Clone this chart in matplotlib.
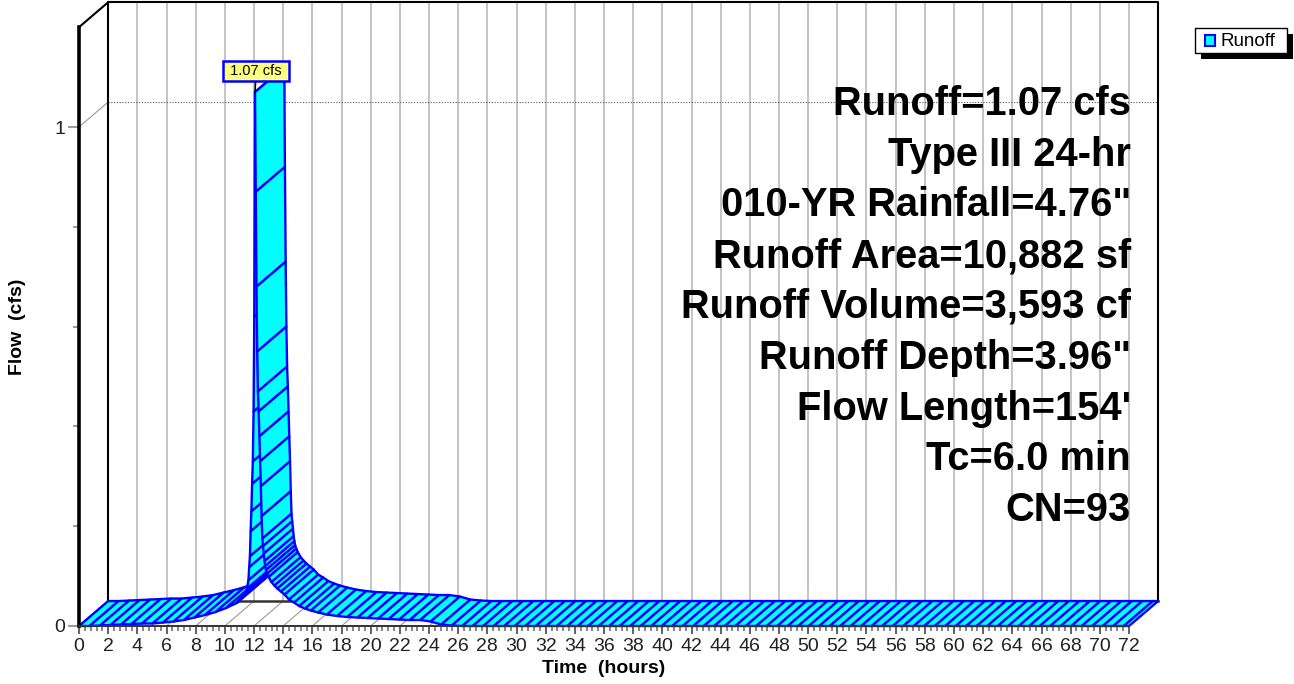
import matplotlib
matplotlib.use("Agg")
from matplotlib import pyplot
from matplotlib.patches import Polygon, Rectangle
from matplotlib.ticker import MultipleLocator, FixedLocator

pyplot.rcParams['font.family'] = ['Liberation Sans', 'DejaVu Sans']

# runoff hydrograph: time (hours) / flow (cfs)
hours_rise = [0.00, 0.72, 1.44, 2.16, 2.88, 3.60, 4.32, 5.04, 5.76, 6.48, 7.20, 7.92,
              8.64, 9.36, 10.08, 10.80, 11.20, 11.40, 11.52, 11.62, 11.67, 11.72, 11.77,
              11.82, 11.87, 11.92, 11.97, 12.02, 12.07]
flow_rise = [0.000, 0.000, 0.001, 0.002, 0.003, 0.004, 0.005, 0.005, 0.007, 0.009, 0.012, 0.017,
             0.022, 0.028, 0.036, 0.046, 0.058, 0.066, 0.075, 0.092, 0.118, 0.140, 0.190,
             0.230, 0.285, 0.330, 0.430, 0.620, 1.070]
hours_fall = [12.12, 12.17, 12.22, 12.27, 12.32, 12.37, 12.42, 12.47, 12.52, 12.57, 12.62,
              12.67, 12.72, 12.77, 12.82, 12.90, 13.00, 13.20, 13.40, 13.60, 13.85, 14.10,
              14.40, 14.75, 15.10, 15.50, 15.90, 16.40, 17.00, 17.70, 18.40, 19.10, 19.80,
              20.52, 21.24, 21.96, 22.68, 23.40, 24.12, 24.84, 25.56]
flow_fall = [0.870, 0.680, 0.550, 0.470, 0.430, 0.380, 0.330, 0.280, 0.220, 0.175, 0.160,
             0.145, 0.130, 0.120, 0.112, 0.105, 0.098, 0.088, 0.081, 0.075, 0.069, 0.063,
             0.053, 0.047, 0.040, 0.035, 0.031, 0.027, 0.023, 0.020, 0.018, 0.017, 0.016,
             0.015, 0.014, 0.013, 0.012, 0.012, 0.009, 0.003, 0.001]
hours_tail = [26.28, 27.00, 27.72, 28.44, 29.16, 29.88, 30.60, 31.32, 32.04, 32.76, 33.48,
              34.20, 34.92, 35.64, 36.36, 37.08, 37.80, 38.52, 39.24, 39.96, 40.68, 41.40,
              42.12, 42.84, 43.56, 44.28, 45.00, 45.72, 46.44, 47.16, 47.88, 48.60, 49.32,
              50.04, 50.76, 51.48, 52.20, 52.92, 53.64, 54.36, 55.08, 55.80, 56.52, 57.24,
              57.96, 58.68, 59.40, 60.12, 60.84, 61.56, 62.28, 63.00, 63.72, 64.44, 65.16,
              65.88, 66.60, 67.32, 68.04, 68.76, 69.48, 70.20, 70.92, 71.64, 72.00]
flow_tail = [0.0] * len(hours_tail)

hours = hours_rise + hours_fall + hours_tail
flow = flow_rise + flow_fall + flow_tail

summary = ['Runoff=1.07 cfs', 'Type III 24-hr', '010-YR Rainfall=4.76"',
           'Runoff Area=10,882 sf', 'Runoff Volume=3,593 cf', 'Runoff Depth=3.96"',
           "Flow Length=154'", 'Tc=6.0 min', 'CN=93']

T_MAX = 72
Q_MAX = 1.2
DX, DY = 2.0, 0.05          # depth of the 3d box, in data units
FILL = '#00ffff'
EDGE = '#0000ff'
W, H = 1294, 684


def fig_rect(x, y, w, h, **kw):
    # rectangle given in pixels from the top-left corner of the figure
    return Rectangle((x / W, 1 - (y + h) / H), w / W, h / H, transform=fig.transFigure, **kw)


fig = pyplot.figure(figsize=(W / 100, H / 100), dpi=100)
ax = fig.add_axes([79 / W, 58 / H, 1050 / W, 598.8 / H])
ax.set_xlim(0, T_MAX)
ax.set_ylim(0, Q_MAX)
ax.patch.set_visible(False)

# back wall grid
for t in range(2, T_MAX, 2):
    ax.plot([t + DX, t + DX], [DY, Q_MAX + DY], color='#c4c4c4', lw=1.4, clip_on=False, zorder=1)
ax.plot([DX, T_MAX + DX], [1 + DY, 1 + DY], color='#555555', lw=0.8, ls=(0, (1, 1.5)),
        clip_on=False, zorder=1.2)
ax.plot([0, DX], [1, 1 + DY], color='#999999', lw=0.8, clip_on=False, zorder=1.2)

# floor
for t in range(0, T_MAX + 1, 2):
    ax.plot([t, t + DX], [0, DY], color='#999999', lw=0.8, clip_on=False, zorder=1.2)
ax.plot([DX, T_MAX + DX], [DY, DY], color='#333333', lw=1.8, clip_on=False, zorder=1.5)

# box edges
ax.plot([DX, DX, T_MAX + DX, T_MAX + DX], [DY, Q_MAX + DY, Q_MAX + DY, DY],
        color='black', lw=1.5, clip_on=False, zorder=1.5)
ax.plot([0, DX], [Q_MAX, Q_MAX + DY], color='black', lw=1.5, clip_on=False, zorder=1.5)

# hydrograph ribbon
for i in range(len(hours) - 1):
    t0, t1 = hours[i], hours[i + 1]
    q0, q1 = flow[i], flow[i + 1]
    quad = [(t0, q0), (t1, q1), (t1 + DX, q1 + DY), (t0 + DX, q0 + DY)]
    ax.add_patch(Polygon(quad, closed=True, facecolor=FILL, edgecolor=EDGE, lw=1.7,
                         joinstyle='round', clip_on=False, zorder=3))

peak_flow = max(flow)
peak_time = hours[flow.index(peak_flow)]
ax.annotate(' %.2f cfs ' % peak_flow, xy=(peak_time, peak_flow), xytext=(1, 21),
            textcoords='offset pixels', ha='center', va='center', fontsize=10.5,
            bbox=dict(boxstyle='square,pad=0.2', fc='#ffff80', ec=EDGE, lw=1.8),
            arrowprops=dict(arrowstyle='-', color='black', lw=1.2, shrinkA=0, shrinkB=0),
            zorder=6, annotation_clip=False)

# axes
for side in ['top', 'right']:
    ax.spines[side].set_visible(False)
ax.spines['left'].set_linewidth(2.6)
ax.spines['left'].set_color('black')
ax.spines['bottom'].set_linewidth(1.4)
ax.spines['bottom'].set_color('#333333')
ax.spines['left'].set_zorder(5)
ax.spines['bottom'].set_zorder(5)

ax.xaxis.set_major_locator(MultipleLocator(2))
ax.xaxis.set_minor_locator(MultipleLocator(0.4))
ax.yaxis.set_major_locator(FixedLocator([0, 1]))
ax.yaxis.set_minor_locator(FixedLocator([0.2, 0.4, 0.6, 0.8]))
ax.yaxis.set_major_formatter(lambda v, p: '%d' % v)
ax.tick_params(axis='x', which='major', length=6, width=1.3, color='#555555',
               labelsize=14, pad=2.5, labelcolor='#222222')
ax.tick_params(axis='x', which='minor', length=3.5, width=1.1, color='#666666')
ax.tick_params(axis='y', which='major', length=8, width=1.2, color='#888888',
               labelsize=14, pad=2, labelcolor='#222222')
ax.tick_params(axis='y', which='minor', length=4.3, width=1.2, color='#888888')

ax.set_xlabel('Time  (hours)', fontsize=14, fontweight='bold')
ax.xaxis.label.set_va('center')
ax.xaxis.set_label_coords(0.5, -0.0718)
ax.set_ylabel('Flow  (cfs)', fontsize=14, fontweight='bold')
ax.yaxis.label.set_va('center')
ax.yaxis.set_label_coords(-0.059, 0.5)

# storm summary
for i, line in enumerate(summary):
    fig.text(1131 / W, 1 - (115 + 50.75 * i) / H, line, ha='right', va='baseline',
             fontsize=28.7, fontweight='bold')

# legend
fig.add_artist(fig_rect(1201, 34, 92, 25, facecolor='black', edgecolor='none'))
fig.add_artist(fig_rect(1195, 28, 92, 25, facecolor='white', edgecolor='black', lw=1))
fig.add_artist(fig_rect(1205, 35, 10, 11, facecolor=FILL, edgecolor=EDGE, lw=1.5))
fig.text(1220 / W, 1 - 41 / H, 'Runoff', ha='left', va='center', fontsize=13.5)

fig.savefig('out.png', dpi=100)
